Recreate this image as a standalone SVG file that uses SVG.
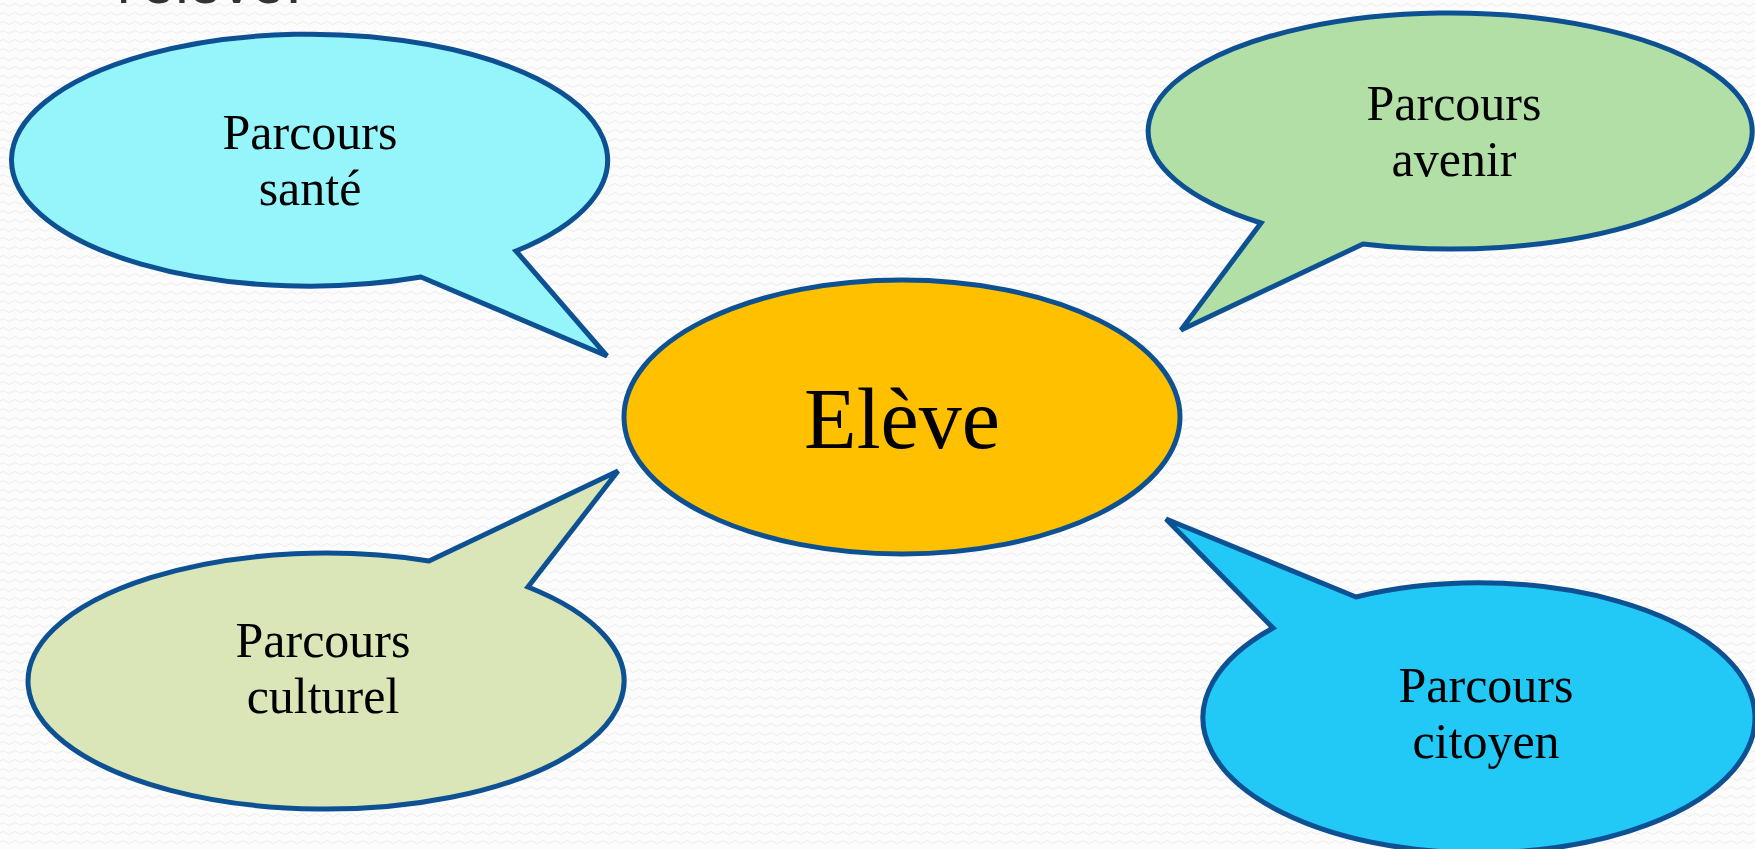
<svg xmlns="http://www.w3.org/2000/svg" width="1755" height="849" viewBox="0 0 1755 849">
<defs>
<pattern id="wave" width="12" height="9" patternUnits="userSpaceOnUse">
<rect width="12" height="9" fill="#fcfcfc"/>
<path d="M0 5 Q3 2 6 5 T12 5" fill="none" stroke="#ededed" stroke-width="1"/>
</pattern>
<style>
.b{stroke:#0d5192;stroke-width:5;stroke-linejoin:miter}
.t{font-family:"Liberation Serif","DejaVu Serif",serif;font-size:50px;text-anchor:middle;fill:#000}
</style>
</defs>
<rect width="1755" height="849" fill="url(#wave)"/>
<text id="title" x="117" y="3" style="font-family:'Liberation Sans',sans-serif;font-size:60px;fill:#333">l'élève.</text>
<g id="connectors"></g>
<g id="sante">
<path class="b" fill="#96f5fa" d="M516 251 L607 356 L421 277 A298 126 0 1 1 516 251 Z"/>
<text class="t" x="310" y="149">Parcours</text>
<text class="t" x="310" y="205">santé</text>
</g>
<g id="avenir">
<path class="b" fill="#b2dfa5" d="M1261 223 L1181 330 L1363 244 A302 118 0 1 0 1261 223 Z"/>
<text class="t" x="1454" y="120">Parcours</text>
<text class="t" x="1454" y="176">avenir</text>
</g>
<g id="culturel">
<path class="b" fill="#dbe6b8" d="M429 561 L618 471 L528 587 A298 128 0 1 1 429 561 Z"/>
<text class="t" x="323" y="657">Parcours</text>
<text class="t" x="323" y="713">culturel</text>
</g>
<g id="citoyen">
<path class="b" fill="#22c8f6" d="M1356 597 L1166 519 L1273 628 A276 135 0 1 0 1356 597 Z"/>
<text class="t" x="1486" y="702">Parcours</text>
<text class="t" x="1486" y="758">citoyen</text>
</g>
<g id="eleve">
<ellipse class="b" fill="#ffc000" cx="902" cy="417" rx="278" ry="137"/>
<text class="t" x="902" y="448" style="font-size:86px">Elève</text>
</g>
</svg>
